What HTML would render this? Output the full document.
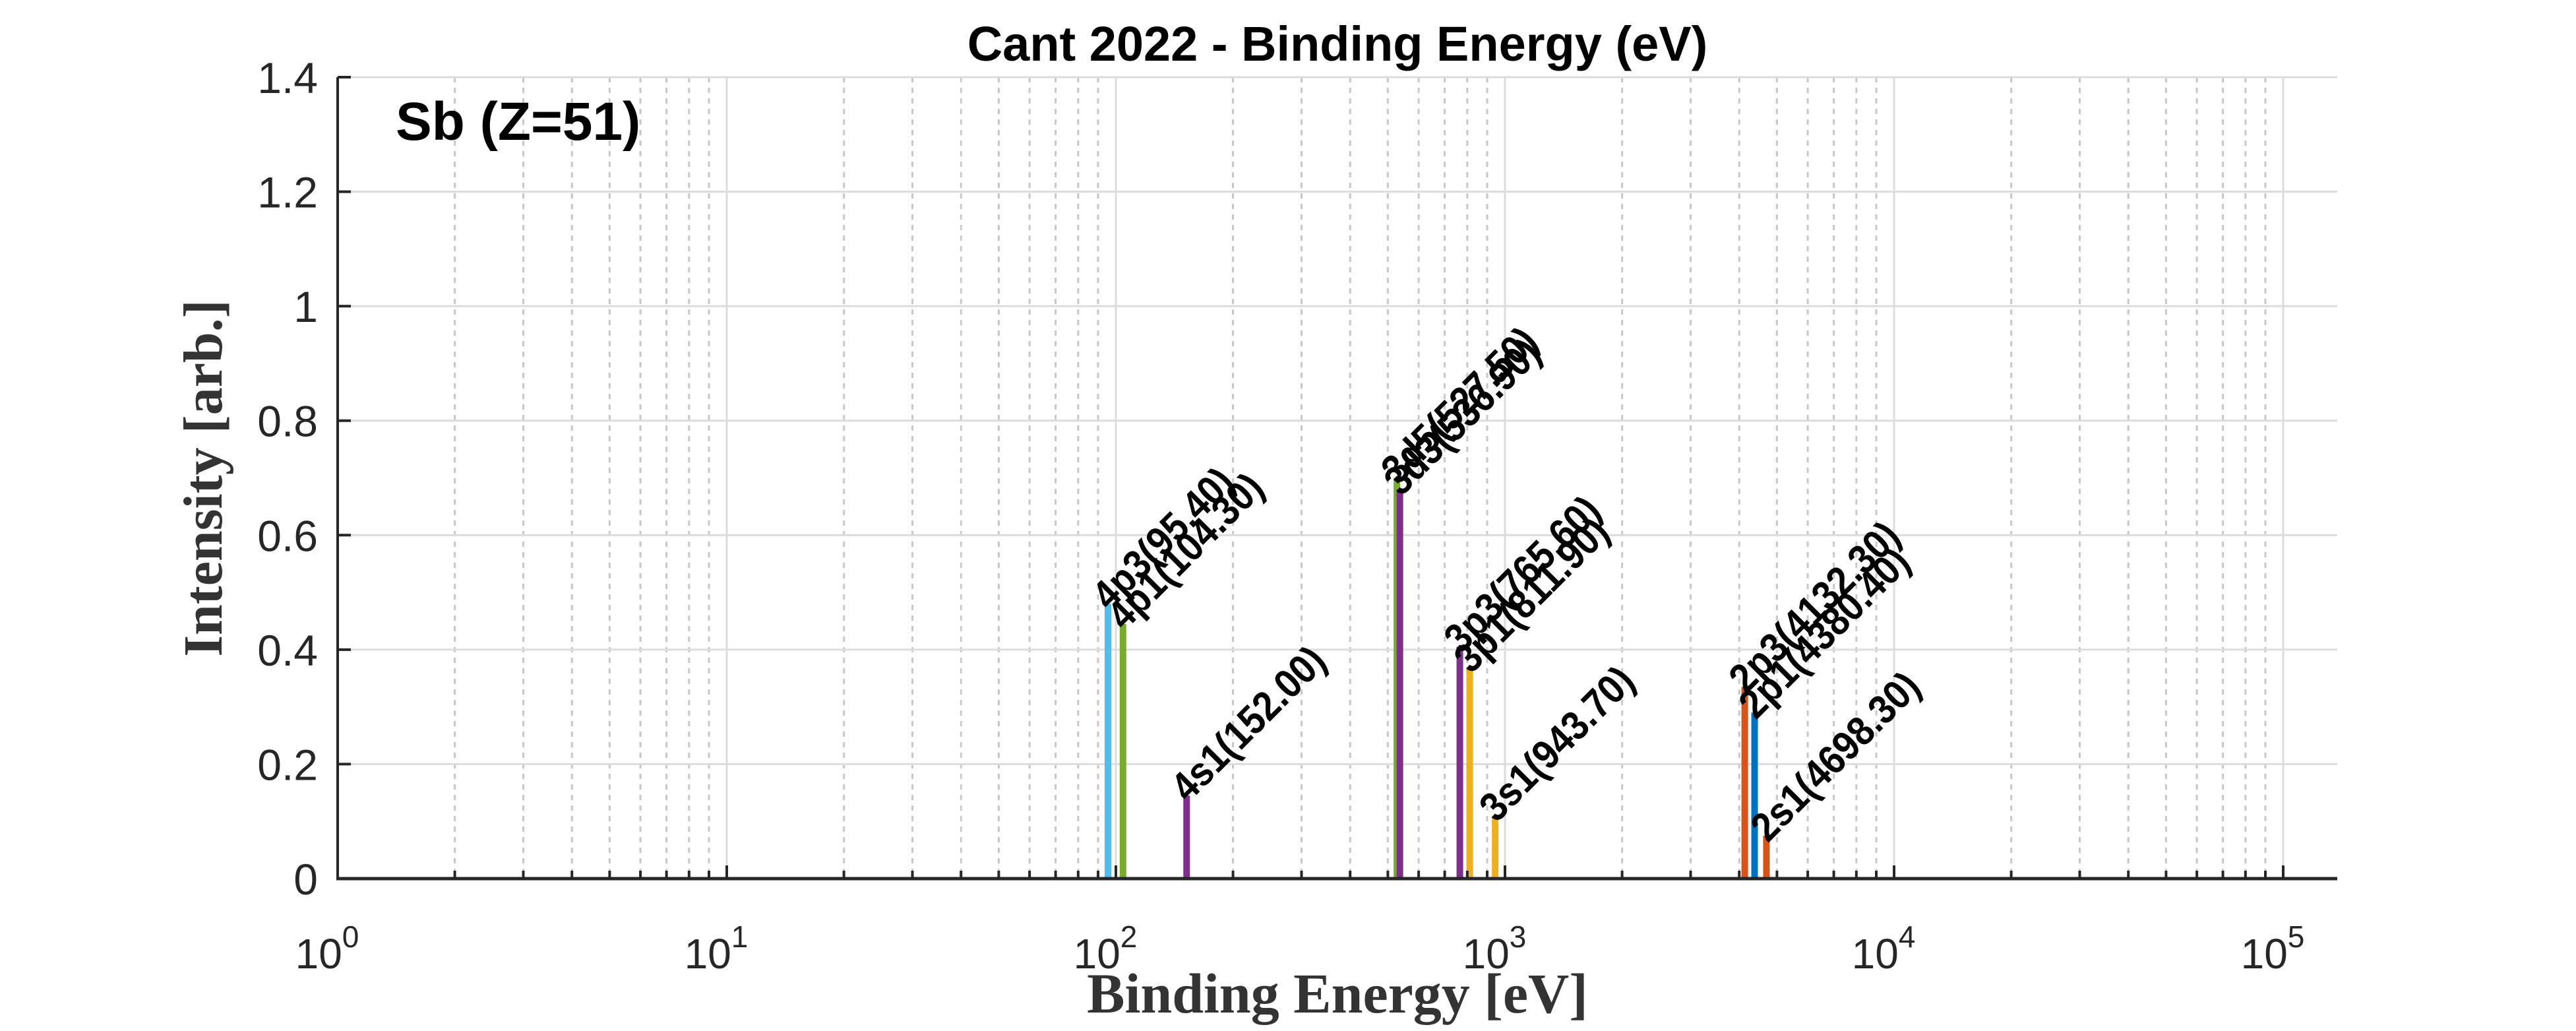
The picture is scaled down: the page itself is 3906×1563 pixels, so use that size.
<!DOCTYPE html>
<html><head><meta charset="utf-8"><style>
html,body{margin:0;padding:0;background:#fff;}
svg{display:block;}
</style></head><body>
<svg id="chart" width="3906" height="1563" xmlns="http://www.w3.org/2000/svg">
<rect width="3906" height="1563" fill="#fff"/>
<g id="grid"></g>
<g id="bars"></g>
<g id="axes"></g>
<g id="labels"></g>
<text x="2028" y="92" text-anchor="middle" font-family="Liberation Sans, sans-serif" font-weight="bold" font-size="74" fill="#000">Cant 2022 - Binding Energy (eV)</text>
<text x="600" y="212" font-family="Liberation Sans, sans-serif" font-weight="bold" font-size="82" fill="#000">Sb (Z=51)</text>
<text x="2028" y="1535" text-anchor="middle" font-family="Liberation Serif, serif" font-weight="bold" font-size="86" fill="#333">Binding Energy [eV]</text>
<text transform="translate(336,725) rotate(-90)" text-anchor="middle" font-family="Liberation Serif, serif" font-weight="bold" font-size="84" fill="#333">Intensity [arb.]</text>
</svg>
<script>
const shells = ["4p3","4p1","4s1","3d5","3d3","3p3","3p1","3s1","2p3","2p1","2s1"];
const energies = [95.4,104.3,152.0,527.5,536.9,765.6,811.9,943.7,4132.3,4380.4,4698.3];
const intensities = [0.48,0.445,0.145,0.70,0.68,0.405,0.37,0.11,0.335,0.29,0.075];
const colors = ["#4DBEEE","#77AC30","#7E2F8E","#77AC30","#7E2F8E","#7E2F8E","#EDB120","#EDB120","#D95319","#0072BD","#D95319"];
const yTicks = [0,0.2,0.4,0.6,0.8,1,1.2,1.4];
const yTickLabels = ["0","0.2","0.4","0.6","0.8","1","1.2","1.4"];
const xDecades = [0,1,2,3,4,5];

const NS="http://www.w3.org/2000/svg";
const L=512,R=3544,T=117,B=1332,DEC=590;
function xs(v){return L+Math.log10(v)*DEC;}
function ys(v){return B-(v/1.4)*(B-T);}
function mk(tag,attrs,parent){const e=document.createElementNS(NS,tag);for(const k in attrs)e.setAttribute(k,attrs[k]);parent.appendChild(e);return e;}
const grid=document.getElementById('grid'),axes=document.getElementById('axes'),bars=document.getElementById('bars'),labels=document.getElementById('labels');
const xmaxLog=(R-L)/DEC;
for(let d=0;d<=5;d++){
  for(let m=1;m<=9;m++){
    const lv=d+Math.log10(m); if(lv>xmaxLog) continue;
    const x=L+lv*DEC;
    if(m===1){
      const g=mk('line',{x1:x,x2:x,y1:T,y2:B,stroke:'#dcdcdc','stroke-width':3},grid);
      
      
      const t=mk('line',{x1:x,x2:x,y1:B,y2:B-20,stroke:'#262626','stroke-width':4},axes);
      
      
    } else {
      const g=mk('line',{x1:x,x2:x,y1:T,y2:B,stroke:'#c8c8c8','stroke-width':3,'stroke-dasharray':'8,8'},grid);
      
      
      const t=mk('line',{x1:x,x2:x,y1:B,y2:B-12,stroke:'#262626','stroke-width':4},axes);
      
      
    }
  }
}
xDecades.forEach(d=>{
  const x=L+d*DEC;
  const t=mk('text',{x:x-16,y:1468,'text-anchor':'middle','font-family':'Liberation Sans, sans-serif','font-size':64,fill:'#262626'},axes);
  
  
  t.textContent='10';
  const s=mk('tspan',{dy:-32,'font-size':46},t);s.textContent=String(d);
});
yTicks.forEach((v,i)=>{
  const y=ys(v);
  const g=mk('line',{x1:L,x2:R,y1:y,y2:y,stroke:'#dcdcdc','stroke-width':3},grid);
  
  
  const t=mk('line',{x1:L,x2:L+20,y1:y,y2:y,stroke:'#262626','stroke-width':4},axes);
  
  
  const lb=mk('text',{x:482,y:y+24,'text-anchor':'end','font-family':'Liberation Sans, sans-serif','font-size':66,fill:'#262626'},axes);
  
  
  lb.textContent=yTickLabels[i];
});
const ax1=mk('line',{x1:L,x2:L,y1:T,y2:B+2,stroke:'#262626','stroke-width':4},axes);


const ax2=mk('line',{x1:L-2,x2:R,y1:B,y2:B,stroke:'#262626','stroke-width':5},axes);


energies.forEach((e,i)=>{
  const x=xs(e),y=ys(intensities[i]);
  const r=mk('rect',{x:x-5,y:y,width:10,height:B-y,fill:colors[i]},bars);
  
  
  const t=mk('text',{transform:`translate(${x+2},${y+12}) rotate(-45) scale(0.9,1)`,'font-family':'Liberation Sans, sans-serif','font-weight':'bold','font-size':62,fill:'#000'},labels);
  
  
  t.textContent=shells[i]+'('+e.toFixed(2)+')';
});
</script>
</body></html>
